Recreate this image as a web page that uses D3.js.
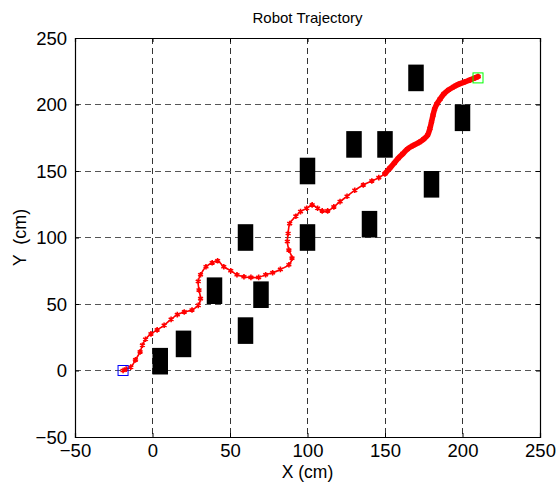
<!DOCTYPE html>
<html>
<head>
<meta charset="utf-8">
<script src="https://cdn.jsdelivr.net/npm/d3@7"></script>
<style>
  html, body { margin: 0; padding: 0; background: #fff; }
  svg { display: block; font-family: "Liberation Sans", Arial, sans-serif; }
</style>
</head>
<body>
<svg id="chart" width="558" height="483"></svg>
<script>
// Axis tick values
const xTicks = [-50, 0, 50, 100, 150, 200, 250];
const yTicks = [-50, 0, 50, 100, 150, 200, 250];

// Obstacle centres (cm); each obstacle is a 10 x 20 cm block
const obstacleX = [5, 20, 60, 40, 70, 60, 100, 100, 130, 150, 140, 180, 170, 200];
const obstacleY = [7, 20, 30, 60, 57, 100, 100, 150, 170, 170, 110, 140, 220, 190];
const obstacleW = 10;
const obstacleH = 20;

// Recorded robot path (cm)
const pathX = [-19, -17, -14, -11, -8, -6.5, -4.5, -1, 3, 7.5, 12, 16, 20.5, 25.5, 29.5, 31, 30, 29.5, 31, 34.5,
  38.5, 42, 46, 50.5, 54.5, 59, 63.5, 68.5, 73, 77.5, 82.5, 88, 90, 88, 87, 87.5, 88.5, 92.5, 95.5, 99.5,
  103, 106.5, 109.5, 113, 117, 121, 125.5, 130.5, 136, 141.5, 146, 150, 153, 156, 158.5, 161.5, 164.5, 168, 172, 175,
  177.5, 179, 180, 181, 182, 183.5, 185.5, 188, 191, 194.5, 198, 201.5, 205, 208, 210];
const pathY = [0, 1, 2.5, 8, 14, 19, 23.5, 27.5, 30.5, 34, 38.5, 42, 44, 45.5, 49, 54, 60.5, 67, 72, 78,
  81, 82.5, 78, 75, 72, 70.5, 70, 70, 72, 73.5, 76, 79.5, 84.5, 90.5, 97, 103, 110.5, 116, 119.5, 122,
  124.5, 122, 120, 120, 123, 127, 131, 135.5, 139.5, 142.5, 145, 148, 152, 156, 159.5, 163, 166.5, 169, 171.5, 174,
  177, 182, 187, 192, 196.5, 200.5, 204, 208, 211, 213.5, 215.5, 217, 218.5, 220, 221];

const startPt = [-19, 0];
const goalPt = [210, 220];

const svg = d3.select("#chart");
const margin = { left: 75, right: 18, top: 38, bottom: 46 };
const W = 558, H = 483;
const pw = W - margin.left - margin.right;
const ph = H - margin.top - margin.bottom;

const x = d3.scaleLinear().domain([-50, 250]).range([margin.left, margin.left + pw]);
const y = d3.scaleLinear().domain([-50, 250]).range([margin.top + ph, margin.top]);

svg.append("rect").attr("width", W).attr("height", H).attr("fill", "#fff");

// Dashed grid
const grid = svg.append("g");
grid.selectAll("line.gx").data(xTicks.slice(1, -1)).join("line")
  .attr("x1", d => x(d)).attr("x2", d => x(d))
  .attr("y1", margin.top).attr("y2", margin.top + ph)
  .attr("stroke", "#333").attr("stroke-width", 1).attr("stroke-dasharray", "6,4")
  .attr("shape-rendering", "crispEdges");
grid.selectAll("line.gy").data(yTicks.slice(1, -1)).join("line")
  .attr("y1", d => y(d)).attr("y2", d => y(d))
  .attr("x1", margin.left).attr("x2", margin.left + pw)
  .attr("stroke", "#555").attr("stroke-width", 1).attr("stroke-dasharray", "6,4")
  .attr("shape-rendering", "crispEdges");

// Obstacles
svg.append("g").selectAll("rect").data(obstacleX).join("rect")
  .attr("x", (d, i) => x(d - obstacleW / 2))
  .attr("y", (d, i) => y(obstacleY[i] + obstacleH / 2))
  .attr("width", (d, i) => x(d + obstacleW / 2) - x(d - obstacleW / 2))
  .attr("height", (d, i) => y(obstacleY[i] - obstacleH / 2) - y(obstacleY[i] + obstacleH / 2))
  .attr("fill", "#000");

// Trajectory
const pts = pathX.map((d, i) => [d, pathY[i]]);
const line = d3.line().x(d => x(d[0])).y(d => y(d[1])).curve(d3.curveCatmullRom);
svg.append("path").datum(pts).attr("d", line)
  .attr("fill", "none").attr("stroke", "#f00").attr("stroke-width", 1.6);
// Final approach drawn with a heavier trace
const tail = pts.filter(d => d[0] >= 150);
svg.append("path").datum(tail).attr("d", line)
  .attr("fill", "none").attr("stroke", "#f00").attr("stroke-width", 5.5)
  .attr("stroke-linecap", "round");

const star = d3.symbol().type(d3.symbolAsterisk).size(22);
svg.append("g").selectAll("path").data(pts).join("path")
  .attr("d", star)
  .attr("transform", d => `translate(${x(d[0])},${y(d[1])})`)
  .attr("fill", "none").attr("stroke", "#f00").attr("stroke-width", 1.6);

// Start and goal markers
svg.append("rect")
  .attr("x", x(startPt[0]) - 5).attr("y", y(startPt[1]) - 5)
  .attr("width", 10).attr("height", 10)
  .attr("fill", "none").attr("stroke", "#00f").attr("stroke-width", 1);
svg.append("rect")
  .attr("x", x(goalPt[0]) - 5).attr("y", y(goalPt[1]) - 5)
  .attr("width", 10).attr("height", 10)
  .attr("fill", "none").attr("stroke", "#0f0").attr("stroke-width", 1);

// Axes with inward ticks
const fontSize = "18.5px";
const axBottom = svg.append("g").attr("transform", `translate(0,${margin.top + ph})`)
  .call(d3.axisBottom(x).tickValues(xTicks).tickSize(-4).tickPadding(7).tickFormat(d3.format("d")));
const axLeft = svg.append("g").attr("transform", `translate(${margin.left},0)`)
  .call(d3.axisLeft(y).tickValues(yTicks).tickSize(-4).tickPadding(8).tickFormat(d3.format("d")));
const axTop = svg.append("g").attr("transform", `translate(0,${margin.top})`)
  .call(d3.axisTop(x).tickValues(xTicks).tickSize(-4).tickFormat(""));
const axRight = svg.append("g").attr("transform", `translate(${margin.left + pw},0)`)
  .call(d3.axisRight(y).tickValues(yTicks).tickSize(-4).tickFormat(""));
[axBottom, axLeft, axTop, axRight].forEach(g => {
  g.selectAll(".domain").attr("stroke", "#000").attr("stroke-width", 1.2);
  g.selectAll(".tick line").attr("stroke", "#000");
  g.selectAll("text").attr("fill", "#000").style("font-size", fontSize)
    .style("font-family", "'Liberation Sans', Arial, sans-serif");
});
axBottom.selectAll("text").attr("dy", "0.71em");
axLeft.selectAll("text").attr("dy", "0.34em");

// Labels
svg.append("text").attr("x", x(100)).attr("y", 477.5)
  .attr("text-anchor", "middle").style("font-size", "17.5px").text("X (cm)");
svg.append("text")
  .attr("transform", `translate(26,${y(100)}) rotate(-90)`)
  .attr("text-anchor", "middle").style("font-size", "18px").attr("xml:space", "preserve").text("Y  (cm)");
svg.append("text").attr("x", (margin.left + margin.left + pw) / 2).attr("y", 23)
  .attr("text-anchor", "middle").style("font-size", "15px").text("Robot Trajectory");
</script>
</body>
</html>
